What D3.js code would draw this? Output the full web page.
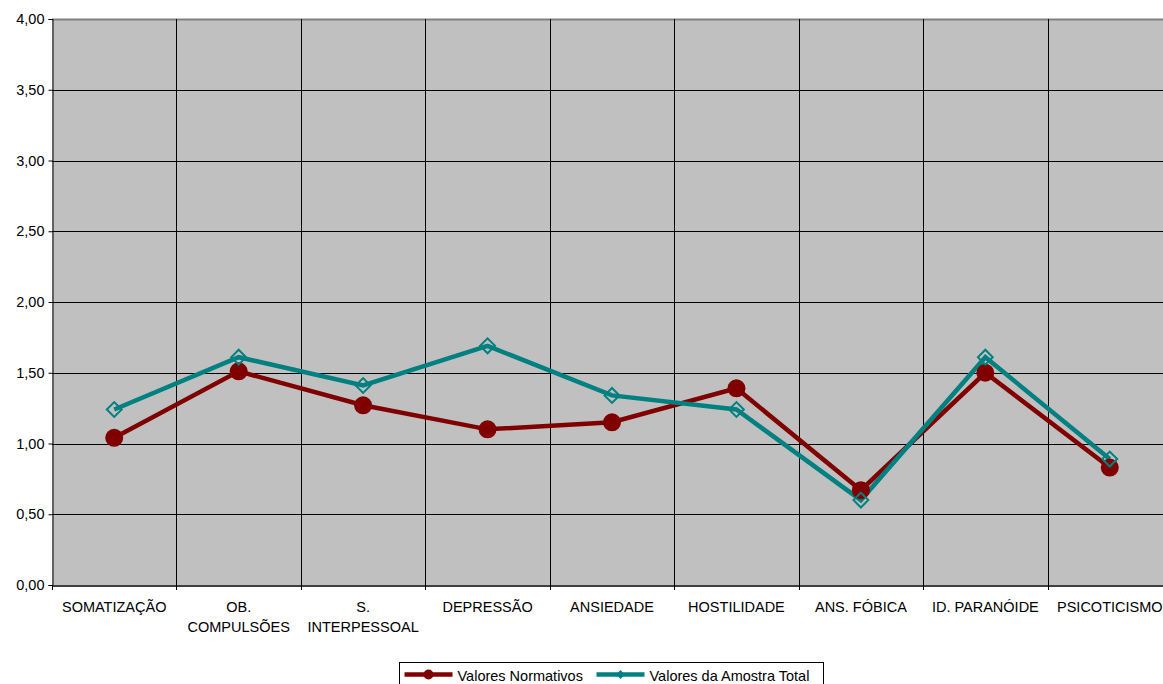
<!DOCTYPE html>
<html>
<head>
<style>
  body { margin: 0; background: #fff; }
  text { font-family: "Liberation Sans", Arial, sans-serif; }
</style>
<script src="https://d3js.org/d3.v7.min.js"></script>
</head>
<body>
<svg width="1163" height="684"></svg>
<script>
var categories = ["SOMATIZAÇÃO", "OB. COMPULSÕES", "S. INTERPESSOAL", "DEPRESSÃO", "ANSIEDADE",
                  "HOSTILIDADE", "ANS. FÓBICA", "ID. PARANÓIDE", "PSICOTICISMO"];
var normativos = [1.04, 1.51, 1.27, 1.10, 1.15, 1.39, 0.67, 1.50, 0.83];
var amostra = [1.24, 1.61, 1.41, 1.69, 1.34, 1.24, 0.60, 1.61, 0.89];
var yTicks = [0, 0.5, 1, 1.5, 2, 2.5, 3, 3.5, 4];
var seriesNames = ["Valores Normativos", "Valores da Amostra Total"];

var svg = d3.select("svg");
var plotLeft = 52, plotRight = 1172, plotTop = 19, plotBottom = 585;
var fontSize = "14.5px";

var x = d3.scaleBand().domain(categories).range([plotLeft, plotRight]);
var y = d3.scaleLinear().domain([0, 4]).range([plotBottom, plotTop]);

// plot background
svg.append("rect")
  .attr("x", plotLeft).attr("y", plotTop)
  .attr("width", plotRight - plotLeft).attr("height", plotBottom - plotTop)
  .attr("fill", "#c0c0c0");

// horizontal gridlines
svg.selectAll(".hgrid").data(yTicks.slice(1)).enter().append("line")
  .attr("x1", plotLeft).attr("x2", plotRight)
  .attr("y1", function(d) { return Math.round(y(d)) + 0.5; })
  .attr("y2", function(d) { return Math.round(y(d)) + 0.5; })
  .attr("stroke", function(d) { return d == 4 ? "#808080" : "#000"; })
  .attr("stroke-width", function(d) { return d == 4 ? 2 : 1; });

// vertical gridlines
svg.selectAll(".vgrid").data(categories.slice(1)).enter().append("line")
  .attr("x1", function(d) { return Math.round(x(d)) + 0.5; })
  .attr("x2", function(d) { return Math.round(x(d)) + 0.5; })
  .attr("y1", plotTop).attr("y2", plotBottom)
  .attr("stroke", "#000");

// y axis
var yAxis = svg.append("g")
  .attr("transform", "translate(" + (plotLeft + 0.5) + ",0)")
  .call(d3.axisLeft(y).tickValues(yTicks).tickSize(4).tickPadding(4)
    .tickFormat(function(d) { return d3.format(".2f")(d).replace(".", ","); }));
yAxis.select(".domain").attr("stroke", "#000");
yAxis.selectAll("text").attr("font-size", fontSize).attr("fill", "#000")
  .attr("font-family", "Liberation Sans, Arial, sans-serif");

// x axis
var xAxis = svg.append("g")
  .attr("transform", "translate(0," + (plotBottom + 0.5) + ")")
  .call(d3.axisBottom(x).tickSize(0));
xAxis.select(".domain").attr("stroke", "#404040").attr("stroke-width", 2);
xAxis.selectAll("text").remove();
xAxis.selectAll(".tick").each(function(d) {
  var t = d3.select(this).append("text")
    .attr("fill", "#000").attr("font-size", fontSize)
    .attr("text-anchor", "middle")
    .attr("font-family", "Liberation Sans, Arial, sans-serif");
  t.append("tspan").attr("x", 0).attr("y", 26).text(d);
  // wrap multi-word labels wider than the band
  if (d.indexOf(" ") > 0 && t.node().getComputedTextLength() > x.bandwidth() - 4) {
    t.selectAll("tspan").remove();
    d.split(" ").forEach(function(w, i) {
      t.append("tspan").attr("x", 0).attr("y", 26 + i * 20).text(w);
    });
  }
});
// category boundary ticks
svg.selectAll(".ctick").data(d3.range(categories.length + 1)).enter().append("line")
  .attr("x1", function(i) { return Math.round(plotLeft + i * x.bandwidth()) + 0.5; })
  .attr("x2", function(i) { return Math.round(plotLeft + i * x.bandwidth()) + 0.5; })
  .attr("y1", plotBottom).attr("y2", plotBottom + 5)
  .attr("stroke", "#000");

var cx = function(d, i) { return x(categories[i]) + x.bandwidth() / 2; };
var line = d3.line().x(function(d, i) { return cx(d, i); }).y(function(d) { return y(d); });

// series lines
svg.append("path").datum(normativos).attr("d", line)
  .attr("fill", "none").attr("stroke", "#800000").attr("stroke-width", 4.5);
svg.append("path").datum(amostra).attr("d", line)
  .attr("fill", "none").attr("stroke", "#008080").attr("stroke-width", 4.5);

svg.selectAll(".dot").data(normativos).enter().append("circle")
  .attr("cx", cx).attr("cy", function(d) { return y(d); })
  .attr("r", 9).attr("fill", "#800000");

var diamond = d3.symbol().type(d3.symbolSquare).size(110);
svg.selectAll(".dia").data(amostra).enter().append("path")
  .attr("d", diamond)
  .attr("transform", function(d, i) { return "translate(" + cx(d, i) + "," + y(d) + ") rotate(45)"; })
  .attr("fill", "none").attr("stroke", "#008080").attr("stroke-width", 2);

// legend
var lg = svg.append("g").attr("transform", "translate(399.5,662.5)");
lg.append("rect").attr("width", 424).attr("height", 30)
  .attr("fill", "#fff").attr("stroke", "#000");
var lx = [5, 197];
var colors = ["#800000", "#008080"];
seriesNames.forEach(function(n, i) {
  var g = lg.append("g").attr("transform", "translate(" + lx[i] + ",12)");
  g.append("line").attr("x1", 0).attr("x2", 48).attr("stroke", colors[i]).attr("stroke-width", 4.5);
  if (i == 0) g.append("circle").attr("cx", 24).attr("r", 5).attr("fill", colors[i]);
  else g.append("path").attr("d", d3.symbol().type(d3.symbolSquare).size(40))
    .attr("transform", "translate(24,0) rotate(45)").attr("fill", colors[i]);
  g.append("text").attr("x", 53).attr("y", 6).attr("font-size", fontSize).attr("fill", "#000").text(n);
});
</script>
</body>
</html>
